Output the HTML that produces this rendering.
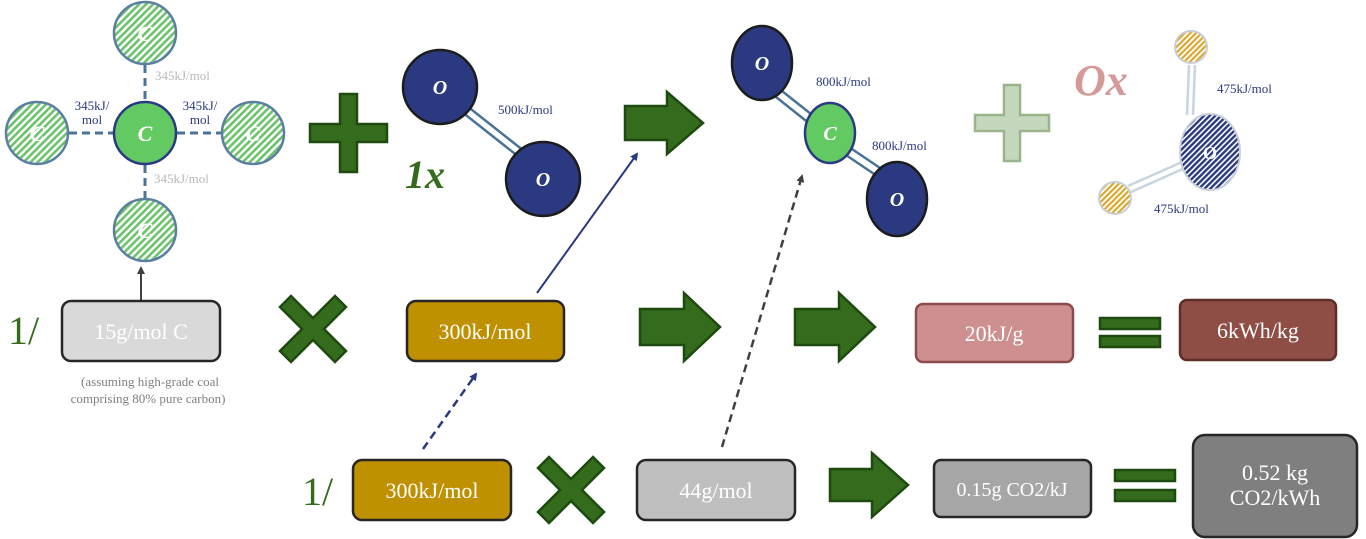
<!DOCTYPE html>
<html><head><meta charset="utf-8"><style>
html,body{margin:0;padding:0;background:#fff;width:1366px;height:539px;overflow:hidden}
svg{display:block;font-family:"Liberation Serif",serif}
</style></head><body>
<svg width="1366" height="539" viewBox="0 0 1366 539">
<defs>
<pattern id="hg" width="5" height="5" patternUnits="userSpaceOnUse" patternTransform="rotate(45)"><rect width="5" height="5" fill="#fff"/><rect width="2.6" height="5" fill="#6cc36c"/></pattern>
<pattern id="hn" width="4" height="4" patternUnits="userSpaceOnUse" patternTransform="rotate(45)"><rect width="4" height="4" fill="#fff"/><rect width="2.4" height="4" fill="#2b3a80"/></pattern>
<pattern id="hy" width="4" height="4" patternUnits="userSpaceOnUse" patternTransform="rotate(45)"><rect width="4" height="4" fill="#fff"/><rect width="2.2" height="4" fill="#d9a830"/></pattern>
<marker id="ma" markerWidth="8" markerHeight="8" refX="6" refY="4" orient="auto" markerUnits="userSpaceOnUse"><path d="M0,0 L8,4 L0,8 z" fill="#2b3a80"/></marker>
<marker id="mg" markerWidth="8" markerHeight="8" refX="6" refY="4" orient="auto" markerUnits="userSpaceOnUse"><path d="M0,0 L8,4 L0,8 z" fill="#404040"/></marker>
</defs>

<!-- methane-like C cluster -->
<g stroke="#4a7397" stroke-width="3" stroke-dasharray="8,5">
<line x1="145" y1="65" x2="145" y2="101"/><line x1="145" y1="165" x2="145" y2="198"/>
<line x1="69" y1="133" x2="113" y2="133"/><line x1="177" y1="133" x2="221" y2="133"/>
</g>
<g fill="url(#hg)" stroke="#5a7fa0" stroke-width="2.5">
<circle cx="145" cy="33" r="31"/><circle cx="37" cy="133" r="31"/><circle cx="253" cy="133" r="31"/><circle cx="145" cy="230" r="31"/>
</g>
<circle cx="145" cy="133" r="31" fill="#63c963" stroke="#2b3a80" stroke-width="2.5"/>
<g fill="#fff" font-weight="bold" font-style="italic" font-size="22" text-anchor="middle">
<text x="145" y="41">C</text><text x="37" y="141">C</text><text x="253" y="141">C</text><text x="145" y="238">C</text><text x="145" y="141">C</text>
</g>
<g font-size="13" fill="#b8b8b8"><text x="155" y="80">345kJ/mol</text><text x="154" y="183">345kJ/mol</text></g>
<g font-size="13" fill="#2b3a80" text-anchor="middle"><text x="92" y="110">345kJ/</text><text x="92" y="124">mol</text><text x="200" y="110">345kJ/</text><text x="200" y="124">mol</text></g>

<!-- big plus -->
<path d="M340,94 h17 v30 h30 v18 h-30 v30 h-17 v-30 h-30 v-18 h30 z" fill="#356b1c" stroke="#1e4a10" stroke-width="2.5"/>

<!-- O2 -->
<g stroke="#4a7397" stroke-width="2.5"><line x1="462" y1="112" x2="519" y2="157"/><line x1="467" y1="106" x2="524" y2="151"/></g>
<circle cx="440" cy="87" r="37" fill="#2b3a80" stroke="#1c1c1c" stroke-width="2.5"/>
<circle cx="543" cy="179" r="37" fill="#2b3a80" stroke="#1c1c1c" stroke-width="2.5"/>
<g fill="#fff" font-weight="bold" font-style="italic" font-size="20" text-anchor="middle"><text x="440" y="94">O</text><text x="543" y="186">O</text></g>
<text x="498" y="114" font-size="13" fill="#2b3a80">500kJ/mol</text>
<text x="405" y="188" font-size="40" font-weight="bold" font-style="italic" fill="#356b1c">1x</text>

<!-- block arrows -->
<g fill="#356b1c" stroke="#1e4a10" stroke-width="2.5">
<polygon points="625,106 667,106 667,92 703,123 667,154 667,140 625,140"/>
<polygon points="640,309 684,309 684,293 720,327 684,361 684,345 640,345"/>
<polygon points="795,309 839,309 839,293 875,327 839,361 839,345 795,345"/>
<polygon points="830,469 872,469 872,453 908,485 872,517 872,501 830,501"/>
</g>

<!-- CO2 -->
<g stroke="#4a7397" stroke-width="2.5"><line x1="776" y1="97" x2="810" y2="124"/><line x1="782" y1="91" x2="816" y2="118"/><line x1="843" y1="153" x2="877" y2="176"/><line x1="849" y1="147" x2="883" y2="170"/></g>
<ellipse cx="762" cy="63" rx="30" ry="37" fill="#2b3a80" stroke="#1c1c1c" stroke-width="2.5"/>
<ellipse cx="897" cy="199" rx="30" ry="37" fill="#2b3a80" stroke="#1c1c1c" stroke-width="2.5"/>
<ellipse cx="830" cy="133" rx="25" ry="30" fill="#63c963" stroke="#2b3a80" stroke-width="2.5"/>
<g fill="#fff" font-weight="bold" font-style="italic" font-size="20" text-anchor="middle"><text x="762" y="70">O</text><text x="897" y="206">O</text><text x="830" y="140">C</text></g>
<g font-size="13" fill="#2b3a80"><text x="816" y="86">800kJ/mol</text><text x="872" y="150">800kJ/mol</text></g>

<!-- light plus -->
<path d="M1004,85 h16 v30 h29 v16 h-29 v30 h-16 v-30 h-29 v-16 h29 z" fill="#c5d8bd" stroke="#9ab58c" stroke-width="2.5"/>

<!-- Ox water -->
<text x="1074" y="95" font-size="44" font-weight="bold" font-style="italic" fill="#d49a9a">Ox</text>
<g stroke="#c8d4e0" stroke-width="2.5"><line x1="1189" y1="65" x2="1187" y2="115"/><line x1="1195" y1="65" x2="1193" y2="115"/><line x1="1128" y1="186" x2="1182" y2="162"/><line x1="1131" y1="192" x2="1185" y2="168"/></g>
<circle cx="1191" cy="47" r="16" fill="url(#hy)" stroke="#c8cfd8" stroke-width="2"/>
<circle cx="1115" cy="198" r="16" fill="url(#hy)" stroke="#c8cfd8" stroke-width="2"/>
<ellipse cx="1210" cy="152" rx="30" ry="38" fill="url(#hn)" stroke="#c8cfd8" stroke-width="2"/>
<text x="1210" y="159" fill="#fff" font-size="18" font-weight="bold" text-anchor="middle">O</text>
<g font-size="13" fill="#2b3a80"><text x="1217" y="93">475kJ/mol</text><text x="1154" y="213">475kJ/mol</text></g>

<!-- connectors -->
<line x1="141" y1="300" x2="141" y2="268" stroke="#404040" stroke-width="2" marker-end="url(#mg)"/>
<line x1="537" y1="293" x2="637" y2="154" stroke="#2b3a80" stroke-width="2" marker-end="url(#ma)"/>
<line x1="423" y1="449" x2="476" y2="374" stroke="#2b3a80" stroke-width="2.5" stroke-dasharray="8,5" marker-end="url(#ma)"/>
<line x1="722" y1="447" x2="802" y2="176" stroke="#404040" stroke-width="2.5" stroke-dasharray="8,5" marker-end="url(#mg)"/>

<!-- row 2 -->
<text x="8" y="344" font-size="40" fill="#356b1c">1/</text>
<rect x="62" y="301" width="158" height="60" rx="9" fill="#d9d9d9" stroke="#262626" stroke-width="2.5"/>
<text x="141" y="339" font-size="22" fill="#fff" text-anchor="middle">15g/mol C</text>
<g font-size="13" fill="#808080" text-anchor="middle"><text x="150" y="386">(assuming high-grade coal</text><text x="148" y="403">comprising 80% pure carbon)</text></g>
<polygon points="-33,-22 -22,-33 0,-11 22,-33 33,-22 11,0 33,22 22,33 0,11 -22,33 -33,22 -11,0" transform="translate(313,329)" fill="#356b1c" stroke="#1e4a10" stroke-width="2.5"/>
<rect x="407" y="301" width="157" height="60" rx="9" fill="#bf9000" stroke="#262626" stroke-width="2.5"/>
<text x="485" y="339" font-size="22" fill="#fff" text-anchor="middle">300kJ/mol</text>
<rect x="916" y="304" width="157" height="58" rx="7" fill="#cd8f8f" stroke="#8c4a4a" stroke-width="2.5"/>
<text x="994" y="341" font-size="22" fill="#fff" text-anchor="middle">20kJ/g</text>
<g fill="#356b1c" stroke="#1e4a10" stroke-width="2.5"><rect x="1100" y="318" width="60" height="11"/><rect x="1100" y="336" width="60" height="11"/></g>
<rect x="1180" y="300" width="156" height="60" rx="7" fill="#8e4d45" stroke="#5e2e28" stroke-width="2.5"/>
<text x="1258" y="338" font-size="22" fill="#fff" text-anchor="middle">6kWh/kg</text>

<!-- row 3 -->
<text x="302" y="505" font-size="40" fill="#356b1c">1/</text>
<rect x="353" y="460" width="158" height="60" rx="9" fill="#bf9000" stroke="#262626" stroke-width="2.5"/>
<text x="432" y="498" font-size="22" fill="#fff" text-anchor="middle">300kJ/mol</text>
<polygon points="-33,-22 -22,-33 0,-11 22,-33 33,-22 11,0 33,22 22,33 0,11 -22,33 -33,22 -11,0" transform="translate(571,490)" fill="#356b1c" stroke="#1e4a10" stroke-width="2.5"/>
<rect x="637" y="460" width="158" height="60" rx="9" fill="#bfbfbf" stroke="#262626" stroke-width="2.5"/>
<text x="716" y="498" font-size="22" fill="#fff" text-anchor="middle">44g/mol</text>
<rect x="934" y="460" width="157" height="57" rx="7" fill="#a6a6a6" stroke="#262626" stroke-width="2.5"/>
<text x="1012" y="496" font-size="20" fill="#fff" text-anchor="middle">0.15g CO2/kJ</text>
<g fill="#356b1c" stroke="#1e4a10" stroke-width="2.5"><rect x="1115" y="470" width="60" height="11"/><rect x="1115" y="490" width="60" height="11"/></g>
<rect x="1193" y="435" width="164" height="102" rx="12" fill="#7f7f7f" stroke="#262626" stroke-width="2.5"/>
<g font-size="22" fill="#fff" text-anchor="middle"><text x="1275" y="480">0.52 kg</text><text x="1275" y="505">CO2/kWh</text></g>
</svg>
</body></html>
